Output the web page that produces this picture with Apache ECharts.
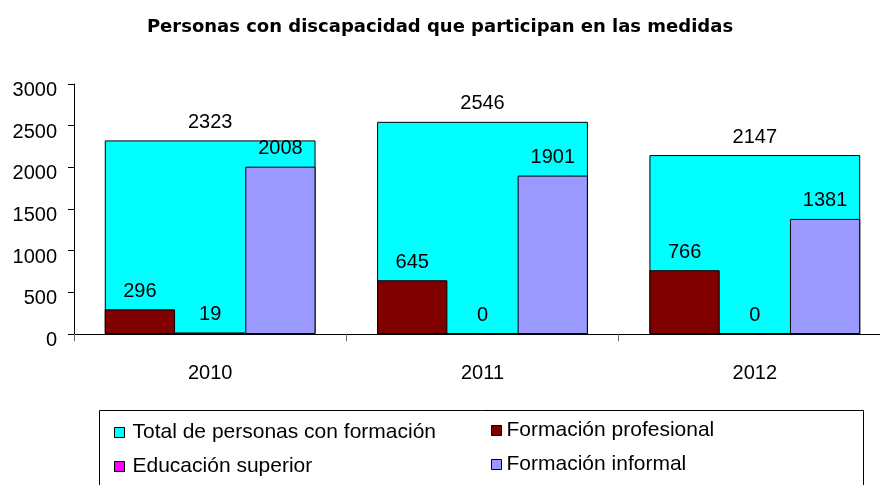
<!DOCTYPE html>
<html>
<head>
<meta charset="utf-8">
<script src="https://cdn.jsdelivr.net/npm/echarts@6/dist/echarts.min.js"></script>
<style>
  html, body { margin: 0; padding: 0; background: #fff; }
  #main { width: 880px; height: 485px; }
</style>
</head>
<body>
<div id="main"></div>
<script>
// datos
var years = ['2010', '2011', '2012'];
var total = [2323, 2546, 2147];
var profesional = [296, 645, 766];
var superior = [19, 0, 0];
var informal = [2008, 1901, 1381];

var font = 'Liberation Sans, Arial, sans-serif';

var myChart = echarts.init(document.getElementById('main'));

function label() {
  return { show: true, position: 'top', distance: 8, color: '#000', fontSize: 20, fontFamily: font };
}

var legendBase = {
  orient: 'vertical',
  itemGap: 13,
  itemWidth: 10,
  itemHeight: 10,
  icon: 'rect',
  itemStyle: { borderColor: '#000', borderWidth: 1 },
  textStyle: { fontSize: 21, color: '#000', fontFamily: font }
};

var option = {
  animation: false,
  backgroundColor: '#fff',
  title: {
    text: 'Personas con discapacidad que participan en las medidas',
    left: 'center',
    top: 13,
    textStyle: { fontSize: 18, fontWeight: 'bold', color: '#000', fontFamily: 'DejaVu Sans' }
  },
  grid: { left: 74, width: 817, top: 84, bottom: 151, outerBoundsMode: 'none' },
  legend: [
    Object.assign({}, legendBase, {
      left: 109,
      top: 417,
      textStyle: { fontSize: 21, color: '#000', fontFamily: font, padding: [0, 0, 0, 3] },
      data: ['Total de personas con formación', 'Educación superior']
    }),
    Object.assign({}, legendBase, {
      left: 486,
      top: 415,
      data: ['Formación profesional', 'Formación informal']
    })
  ],
  graphic: [
    {
      type: 'rect',
      shape: { x: 99.5, y: 410.5, width: 764, height: 90 },
      style: { fill: 'none', stroke: '#000', lineWidth: 1 },
      z: -1
    }
  ],
  xAxis: [
    {
      type: 'category',
      data: years,
      axisLine: { lineStyle: { color: '#000' } },
      axisTick: { show: true, length: 7, lineStyle: { color: '#666' } },
      axisLabel: { color: '#000', fontSize: 20, fontFamily: font, margin: 29 }
    },
    {
      type: 'category',
      data: years,
      show: false
    }
  ],
  yAxis: {
    type: 'value',
    min: 0,
    max: 3000,
    interval: 500,
    splitLine: { show: false },
    axisLine: { show: true, lineStyle: { color: '#000' } },
    axisTick: { show: true, length: 6, lineStyle: { color: '#000' } },
    axisLabel: {
      color: '#000', fontSize: 20, fontFamily: font, margin: 17,
      verticalAlign: 'top', lineHeight: 13,
      formatter: function (v) { return String(v); }
    }
  },
  series: [
    {
      name: 'Total de personas con formación',
      type: 'bar',
      xAxisIndex: 1,
      data: total,
      barWidth: '77.4%',
      z: 1,
      itemStyle: { color: '#00FFFF', borderColor: '#000', borderWidth: 1 },
      label: label()
    },
    {
      name: 'Formación profesional',
      type: 'bar',
      data: profesional,
      barGap: '0%',
      barCategoryGap: '22.6%',
      z: 2,
      itemStyle: { color: '#800000', borderColor: '#000', borderWidth: 1 },
      label: label()
    },
    {
      name: 'Educación superior',
      type: 'bar',
      data: superior,
      barGap: '0%',
      barCategoryGap: '22.6%',
      z: 2,
      itemStyle: { color: '#FF00FF', borderColor: '#000', borderWidth: 1 },
      label: label()
    },
    {
      name: 'Formación informal',
      type: 'bar',
      data: informal,
      barGap: '0%',
      barCategoryGap: '22.6%',
      z: 2,
      itemStyle: { color: '#9999FF', borderColor: '#000', borderWidth: 1 },
      label: label()
    }
  ]
};

myChart.setOption(option);
</script>
</body>
</html>
